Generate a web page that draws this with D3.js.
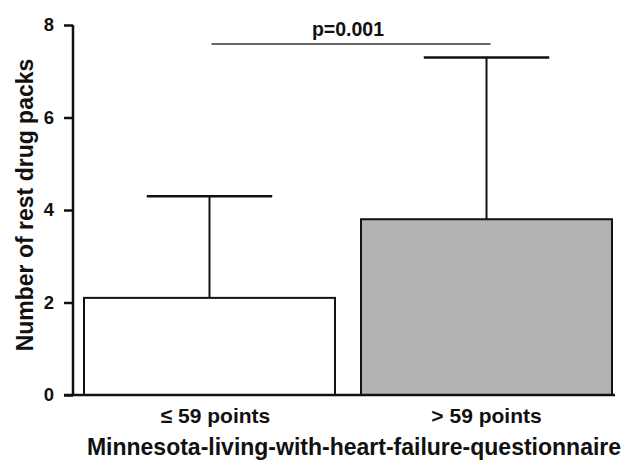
<!DOCTYPE html>
<html>
<head>
<meta charset="UTF-8">
<style>
  body { margin: 0; background: #fff; }
  text { font-family: "Liberation Sans", Arial, sans-serif; font-weight: bold; fill: #111; }
</style>
<script src="https://cdnjs.cloudflare.com/ajax/libs/d3/7.9.0/d3.min.js"></script>
</head>
<body>
<div id="chart"></div>
<script>
// data
const categories = ["\u2264 59 points", "> 59 points"];
const means = [2.1, 3.8];
const errTops = [4.3, 7.3];
const yTicks = [0, 2, 4, 6, 8];
const pLabel = "p=0.001";
const xTitle = "Minnesota-living-with-heart-failure-questionnaire";
const yTitle = "Number of rest drug packs";

const width = 625, height = 461;
const svg = d3.select("#chart").append("svg")
    .attr("width", width).attr("height", height);

const y = d3.scaleLinear().domain([0, 8]).range([395, 25]);
const x = d3.scaleBand().domain(categories).range([84, 612])
    .paddingInner(0.094).paddingOuter(0);

// bars
svg.selectAll("rect.bar").data(categories).enter().append("rect")
    .attr("class", "bar")
    .attr("x", d => x(d))
    .attr("y", (d, i) => y(means[i]))
    .attr("width", x.bandwidth())
    .attr("height", (d, i) => y(0) - y(means[i]))
    .attr("fill", (d, i) => i === 0 ? "#fff" : "#b3b3b3")
    .attr("stroke", "#111")
    .attr("stroke-width", 2);

// error bars (upper only)
const eb = svg.selectAll("g.err").data(categories).enter().append("g").attr("class", "err");
eb.append("line")
    .attr("x1", d => x(d) + x.bandwidth() / 2)
    .attr("x2", d => x(d) + x.bandwidth() / 2)
    .attr("y1", (d, i) => y(means[i]))
    .attr("y2", (d, i) => y(errTops[i]))
    .attr("stroke", "#111").attr("stroke-width", 2);
eb.append("line")
    .attr("x1", d => x(d) + x.bandwidth() / 4)
    .attr("x2", d => x(d) + x.bandwidth() * 3 / 4)
    .attr("y1", (d, i) => y(errTops[i]))
    .attr("y2", (d, i) => y(errTops[i]))
    .attr("stroke", "#111").attr("stroke-width", 2.5);

// y axis
const yAxis = svg.append("g")
    .attr("transform", "translate(73,0)")
    .call(d3.axisLeft(y).tickValues(yTicks).tickSize(9).tickPadding(10).tickFormat(d3.format("d")));
yAxis.select(".domain").attr("d", "M0," + y(8) + "V" + y(0)).attr("stroke", "#111").attr("stroke-width", 2.5);
yAxis.selectAll(".tick line").attr("stroke", "#111").attr("stroke-width", 2.5);
yAxis.selectAll(".tick text").attr("font-size", 18.5).attr("font-family", "Liberation Sans, Arial, sans-serif")
    .attr("font-weight", "bold").attr("fill", "#111");

// x axis baseline
svg.append("line")
    .attr("x1", 64).attr("x2", 615)
    .attr("y1", y(0)).attr("y2", y(0))
    .attr("stroke", "#111").attr("stroke-width", 2.5);

// category labels
svg.selectAll("text.cat").data(categories).enter().append("text")
    .attr("class", "cat")
    .attr("x", d => x(d) + x.bandwidth() / 2)
    .attr("dx", (d, i) => i === 0 ? 6 : 0)
    .attr("y", 423)
    .attr("text-anchor", "middle")
    .attr("font-size", 21)
    .text(d => d);

// significance
const x1 = x(categories[0]) + x.bandwidth() / 2, x2 = x(categories[1]) + x.bandwidth() / 2;
svg.append("line")
    .attr("x1", x1 + 2).attr("x2", x2 + 4)
    .attr("y1", 44).attr("y2", 44)
    .attr("stroke", "#333").attr("stroke-width", 1.5);
svg.append("text")
    .attr("x", (x1 + x2) / 2).attr("y", 36)
    .attr("text-anchor", "middle").attr("font-size", 19.5)
    .text(pLabel);

// axis titles
svg.append("text")
    .attr("x", 354).attr("y", 455)
    .attr("text-anchor", "middle").attr("font-size", 23)
    .text(xTitle);
svg.append("text")
    .attr("transform", "translate(33,205) rotate(-90)")
    .attr("text-anchor", "middle").attr("font-size", 23)
    .text(yTitle);
</script>
</body>
</html>
